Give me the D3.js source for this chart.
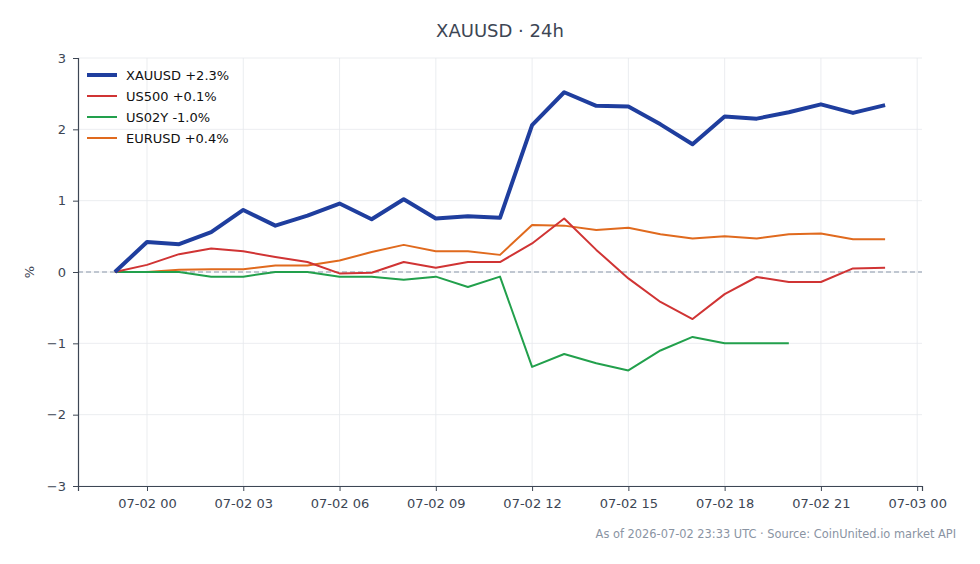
<!DOCTYPE html>
<html>
<head>
<meta charset="utf-8">
<script src="https://cdn.jsdelivr.net/npm/d3@7"></script>
<style>
body{margin:0;background:#fff;}
text{font-family:"DejaVu Sans",sans-serif;}
</style>
</head>
<body>
<div id="chart"></div>
<script>
// hourly points, 07-01 23:00 .. 07-02 23:00 (UTC)
var startHour = Date.UTC(2026,6,1,23);
var times = d3.range(25).map(i => new Date(startHour + i*3600e3));

var xauusd = [0,0.42,0.39,0.56,0.87,0.65,0.79,0.96,0.74,1.02,0.75,0.78,0.76,2.06,2.52,2.33,2.32,2.07,1.79,2.18,2.15,2.24,2.35,2.23,2.34];
var us500  = [0,0.10,0.25,0.33,0.29,0.21,0.14,-0.02,-0.01,0.14,0.06,0.14,0.14,0.40,0.75,0.31,-0.09,-0.42,-0.66,-0.31,-0.07,-0.14,-0.14,0.05,0.06];
var us02y  = [0,0,0,-0.065,-0.065,0,0,-0.065,-0.065,-0.11,-0.065,-0.21,-0.065,-1.33,-1.15,-1.28,-1.38,-1.10,-0.91,-1.0,-1.0,-1.0,null,null,null];
var eurusd = [0,0,0.03,0.04,0.04,0.09,0.09,0.16,0.28,0.38,0.29,0.29,0.24,0.66,0.65,0.59,0.62,0.53,0.47,0.50,0.47,0.53,0.54,0.46,0.46];

var seriesNames = ["XAUUSD +2.3%","US500 +0.1%","US02Y -1.0%","EURUSD +0.4%"];
var seriesColors = ["#1f3e9e","#d03434","#22a04c","#e06a1e"];
var seriesWidths = [4,2,2,2];
var seriesData = [xauusd,us500,us02y,eurusd];
var yTicks = [-3,-2,-1,0,1,2,3];

var width = 980, height = 564;
var margin = {left:78, right:58, top:58, bottom:78};

var svg = d3.select("#chart").append("svg")
    .attr("width",width).attr("height",height);

var pad = 1.15*3600e3;
var xScale = d3.scaleUtc()
    .domain([new Date(+times[0]-pad), new Date(+times[24]+pad)])
    .range([margin.left, width-margin.right]);
var yScale = d3.scaleLinear()
    .domain([-3,3])
    .range([height-margin.bottom, margin.top]);

var xTicks = d3.range(9).map(i => new Date(Date.UTC(2026,6,2,0) + i*3*3600e3));
var fmt = d3.utcFormat("%m-%d %H");

// grid
svg.append("g").selectAll("line").data(xTicks).enter().append("line")
    .attr("x1",d=>xScale(d)).attr("x2",d=>xScale(d))
    .attr("y1",margin.top).attr("y2",height-margin.bottom)
    .attr("stroke","#e6e8ec").attr("stroke-width",0.8);
svg.append("g").selectAll("line").data(yTicks).enter().append("line")
    .attr("x1",margin.left).attr("x2",width-margin.right)
    .attr("y1",d=>yScale(d)).attr("y2",d=>yScale(d))
    .attr("stroke","#e6e8ec").attr("stroke-width",0.8);

// zero line
svg.append("line")
    .attr("x1",margin.left).attr("x2",width-margin.right)
    .attr("y1",yScale(0)).attr("y2",yScale(0))
    .attr("stroke","#8a97aa").attr("stroke-width",1)
    .attr("stroke-dasharray","5,3");

// axes
var xAxis = d3.axisBottom(xScale).tickValues(xTicks).tickFormat(fmt).tickSize(5).tickPadding(8);
var yAxis = d3.axisLeft(yScale).tickValues(yTicks).tickSize(5).tickPadding(7);
var gx = svg.append("g").attr("transform","translate(0,"+(height-margin.bottom)+")").call(xAxis);
var gy = svg.append("g").attr("transform","translate("+margin.left+",0)").call(yAxis);
[gx,gy].forEach(function(g){
    g.select(".domain").attr("stroke","#3d4654").attr("stroke-width",1.2);
    g.selectAll(".tick line").attr("stroke","#3d4654");
    g.selectAll(".tick text").attr("fill","#3d4654").attr("font-size",13)
        .attr("font-family","DejaVu Sans");
});
gy.selectAll(".tick text").text(d => d < 0 ? "\u2212" + Math.abs(d) : d);

// lines
var line = d3.line()
    .defined(d => d.v !== null)
    .x(d => xScale(d.t))
    .y(d => yScale(d.v));
seriesData.slice().reverse().forEach(function(arr, ri){
    var i = seriesData.length-1-ri;
    svg.append("path")
        .datum(arr.map((v,k) => ({t:times[k], v:v})))
        .attr("fill","none")
        .attr("stroke",seriesColors[i])
        .attr("stroke-width",seriesWidths[i])
        .attr("stroke-linejoin","round")
        .attr("d",line);
});

// legend
var legend = svg.append("g").attr("transform","translate(87,75)");
seriesNames.forEach(function(name,i){
    var g = legend.append("g").attr("transform","translate(0,"+(i*21)+")");
    g.append("line").attr("x1",0).attr("x2",30).attr("y1",0).attr("y2",0)
        .attr("stroke",seriesColors[i]).attr("stroke-width",seriesWidths[i]);
    g.append("text").attr("x",39).attr("y",0).attr("dy","0.35em")
        .attr("font-size",13).attr("fill","#111").text(name);
});

// title, labels
svg.append("text").attr("x",500).attr("y",37).attr("text-anchor","middle")
    .attr("font-size",18).attr("fill","#3d4654").text("XAUUSD \u00b7 24h");
svg.append("text").attr("transform","translate(34,"+yScale(0)+") rotate(-90)")
    .attr("text-anchor","middle").attr("font-size",13).attr("fill","#3d4654").text("%");
svg.append("text").attr("x",956).attr("y",538).attr("text-anchor","end")
    .attr("font-size",11.4).attr("fill","#8a94a3")
    .text("As of 2026-07-02 23:33 UTC \u00b7 Source: CoinUnited.io market API");
</script>
</body>
</html>
